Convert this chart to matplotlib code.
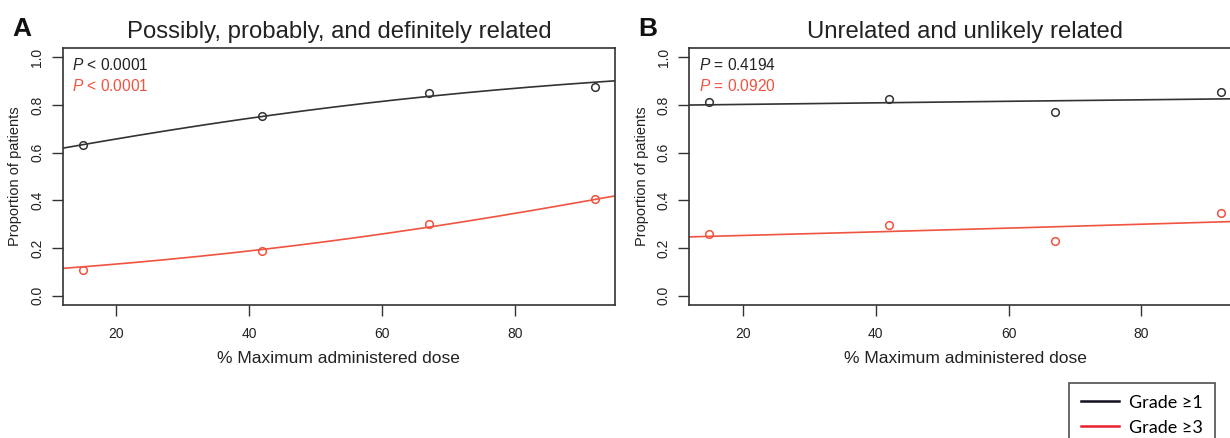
import numpy as np
import matplotlib
matplotlib.use("Agg")
import matplotlib.pyplot as plt
from matplotlib.lines import Line2D

plt.rcParams['font.family'] = ['Liberation Sans', 'DejaVu Sans']
plt.rcParams['mathtext.fontset'] = 'custom'
plt.rcParams['mathtext.rm'] = 'Liberation Sans'
plt.rcParams['mathtext.it'] = 'Liberation Sans:italic'

# ---- data ----
dose = [15, 42, 67, 92]
a_grade1 = [0.632, 0.754, 0.849, 0.876]
a_grade3 = [0.108, 0.189, 0.301, 0.406]
b_grade1 = [0.812, 0.825, 0.770, 0.855]
b_grade3 = [0.260, 0.296, 0.231, 0.346]

# logistic fit coefficients (intercept, slope)
a_fit1 = (0.236, 0.0208)
a_fit3 = (-2.292, 0.02066)
b_fit1 = (1.360, 0.00211)
b_fit3 = (-1.164, 0.00394)

panel_titles = ["Possibly, probably, and definitely related",
                "Unrelated and unlikely related"]
panel_letters = ["A", "B"]
p_texts = [(r"$\it{P}$ < 0.0001", r"$\it{P}$ < 0.0001"),
           (r"$\it{P}$ = 0.4194", r"$\it{P}$ = 0.0920")]
legend_labels = ["Grade ≥1", "Grade ≥3"]
xticks = [20, 40, 60, 80]
yticks = [0.0, 0.2, 0.4, 0.6, 0.8, 1.0]

BLACK = "#333333"
RED = "#f0533f"

W, H = 1230, 438
fig = plt.figure(figsize=(W / 100, H / 100), dpi=100)

axw = 552.7 / W
axh = (305.2 - 47.8) / H
bottom = 1 - 305.2 / H
lefts = [62.5 / W, 689 / W]

datasets = [(a_grade1, a_grade3, a_fit1, a_fit3),
            (b_grade1, b_grade3, b_fit1, b_fit3)]

xr = max(dose) - min(dose)
xlim = (min(dose) - 0.04 * xr, max(dose) + 0.04 * xr)

for i in range(2):
    ax = fig.add_axes([lefts[i], bottom, axw, axh])
    g1, g3, f1, f3 = datasets[i]
    xs = np.linspace(xlim[0], xlim[1], 200)
    for g, f, c in ((g1, f1, BLACK), (g3, f3, RED)):
        yfit = 1 / (1 + np.exp(-(f[0] + f[1] * xs)))
        ax.plot(xs, yfit, color=c, lw=1.2)
        ax.plot(dose, g, 'o', mfc='none', mec=c, ms=5.5, mew=1.1)
    ax.set_xlim(*xlim)
    ax.set_ylim(-0.04, 1.04)
    ax.set_xticks(xticks)
    ax.set_yticks(yticks)
    ax.set_yticklabels([f"{v:.1f}" for v in yticks], rotation=90, va='center')
    ax.tick_params(axis='both', direction='out', length=8, width=1.0,
                   color=BLACK, labelsize=10, labelcolor="#222222")
    ax.tick_params(axis='x', pad=8)
    ax.tick_params(axis='y', pad=5)
    for s in ax.spines.values():
        s.set_color(BLACK)
        s.set_linewidth(1.2)
    ax.set_xlabel("% Maximum administered dose", fontsize=12.5,
                  color="#222222", labelpad=7)
    ax.set_ylabel("Proportion of patients", fontsize=10.5, color="#222222",
                  labelpad=6)
    ax.set_title(panel_titles[i], fontsize=17.2, color="#222222", pad=7)
    ax.text(10 / 552.7, 1 - (65 - 47.8) / 257.4, p_texts[i][0],
            transform=ax.transAxes, fontsize=11.2, color="#222222",
            va='center', ha='left')
    ax.text(10 / 552.7, 1 - (86 - 47.8) / 257.4, p_texts[i][1],
            transform=ax.transAxes, fontsize=11.2, color=RED,
            va='center', ha='left')

fig.text(12 / W, 1 - 29 / H, panel_letters[0], fontsize=19, fontweight='bold',
         va='center', ha='left', color="#111111")
fig.text(638 / W, 1 - 29 / H, panel_letters[1], fontsize=19, fontweight='bold',
         va='center', ha='left', color="#111111")

handles = [Line2D([], [], color="#111122", lw=1.8),
           Line2D([], [], color="#e8202a", lw=1.8)]
leg = fig.legend(handles, legend_labels, loc='upper left',
                 bbox_to_anchor=(1069 / W, 1 - 383 / H),
                 prop={'family': ['Lato', 'DejaVu Sans'], 'size': 13},
                 frameon=True, fancybox=False, edgecolor="#222222",
                 handlelength=2.1, handletextpad=0.6, borderpad=0.65,
                 labelspacing=0.5, borderaxespad=0)
leg.get_frame().set_linewidth(1.2)

fig.savefig("out.png", dpi=100, facecolor='white')
